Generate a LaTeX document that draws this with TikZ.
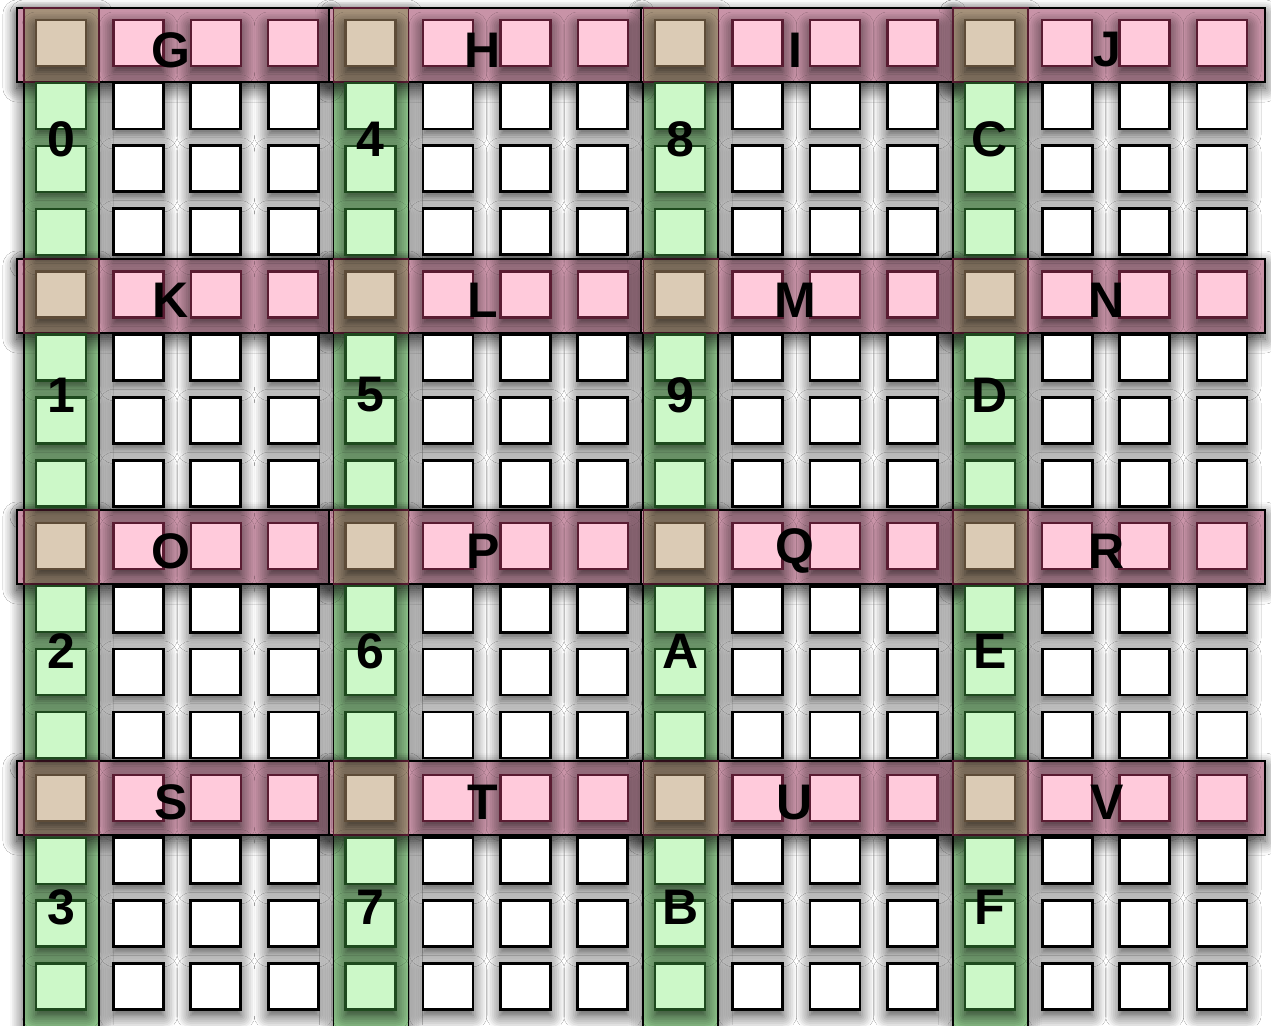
\documentclass[tikz,border=0pt]{standalone}
\usepackage{fontspec}
\setmainfont{Liberation Sans}
\usepackage{tikz}
\usetikzlibrary{positioning,shadows.blur}

\definecolor{cellgreen}{HTML}{CCF8C8}
\definecolor{bandgreen}{HTML}{8FC68C}
\definecolor{edgegreen}{HTML}{1E4A1E}
\definecolor{cellpink}{HTML}{FFCADB}
\definecolor{bandpink}{HTML}{C893A7}
\definecolor{edgepink}{HTML}{5A1C32}
\definecolor{celltan}{HTML}{DBCBB5}
\definecolor{bandtan}{HTML}{A5917A}
\definecolor{edgetan}{HTML}{5E4C38}

\begin{document}
\begin{tikzpicture}[x=0.5pt, y=-0.5pt,
  softshadow/.style={blur shadow={shadow xshift=0pt, shadow yshift=-3pt,
      shadow blur radius=7pt, shadow blur steps=8, shadow opacity=75}},
  whitecell/.style={draw=black, line width=1.4pt, fill=white, inner sep=0pt,
      minimum width=25pt, minimum height=23pt, softshadow},
  greencell/.style={whitecell, draw=edgegreen, line width=1.2pt, fill=cellgreen},
  pinkcell/.style={whitecell, draw=edgepink, line width=1.2pt, fill=cellpink},
  tancell/.style={whitecell, draw=edgetan, line width=1.2pt, fill=celltan},
  greenband/.style={draw=black, line width=0.8pt, fill=bandgreen, softshadow},
  pinkband/.style={draw=black, line width=0.8pt, fill=bandpink, softshadow},
  tanband/.style={draw=edgepink, line width=0.7pt, fill=bandtan},
  tag/.style={font=\fontsize{25}{30}\selectfont\bfseries, inner sep=0pt}]

\fill[white] (0,0) rectangle (1271,1025);
\useasboundingbox (0,0) rectangle (1271,1025);

% green columns
\foreach \br in {0,...,3}{
  \foreach \bc in {0,...,3}{
    \pgfmathsetmacro{\bx}{61+309.6*\bc}
    \pgfmathsetmacro{\by}{8+251*\br}
    \pgfmathsetmacro{\bend}{ifthenelse(\br==3,1050,\by+251)}
    \path[greenband] (\bx-37,\by) rectangle (\bx+38,\bend);
  }
}

% pink rows
\foreach \br in {0,...,3}{
  \foreach \bc in {0,...,3}{
    \pgfmathsetmacro{\bx}{61+309.6*\bc}
    \pgfmathsetmacro{\px}{17+312*\bc}
    \pgfmathsetmacro{\py}{8+251*\br}
    \path[pinkband] (\px,\py) rectangle (\px+312,\py+74);
    \path[tanband] (\bx-37,\py) rectangle (\bx+38,\py+74);
  }
}

% cells
\foreach \r in {0,...,15}{
  \foreach \c in {0,...,15}{
    \pgfmathtruncatemacro{\rk}{mod(\r,4)}
    \pgfmathtruncatemacro{\ck}{mod(\c,4)}
    \ifnum\rk=0
      \ifnum\ck=0 \def\kind{tancell}\else\def\kind{pinkcell}\fi
    \else
      \ifnum\ck=0 \def\kind{greencell}\else\def\kind{whitecell}\fi
    \fi
    \node[\kind] (sq-\r-\c) at (61+77.4*\c, 43+62.9*\r) {};
  }
}

% block labels
\foreach \br/\letters/\digits in {0/{G,H,I,J}/{0,4,8,C}, 1/{K,L,M,N}/{1,5,9,D},
                                  2/{O,P,Q,R}/{2,6,A,E}, 3/{S,T,U,V}/{3,7,B,F}}{
  \foreach \lt [count=\bc from 0] in \letters{
    \node[tag] (row-\lt) at (171+312*\bc, 50+250.7*\br) {\lt};
  }
  \foreach \dg [count=\bc from 0] in \digits{
    \node[tag] (col-\dg) at (61+309.6*\bc, 139+256*\br) {\dg};
  }
}
\end{tikzpicture}
\end{document}
